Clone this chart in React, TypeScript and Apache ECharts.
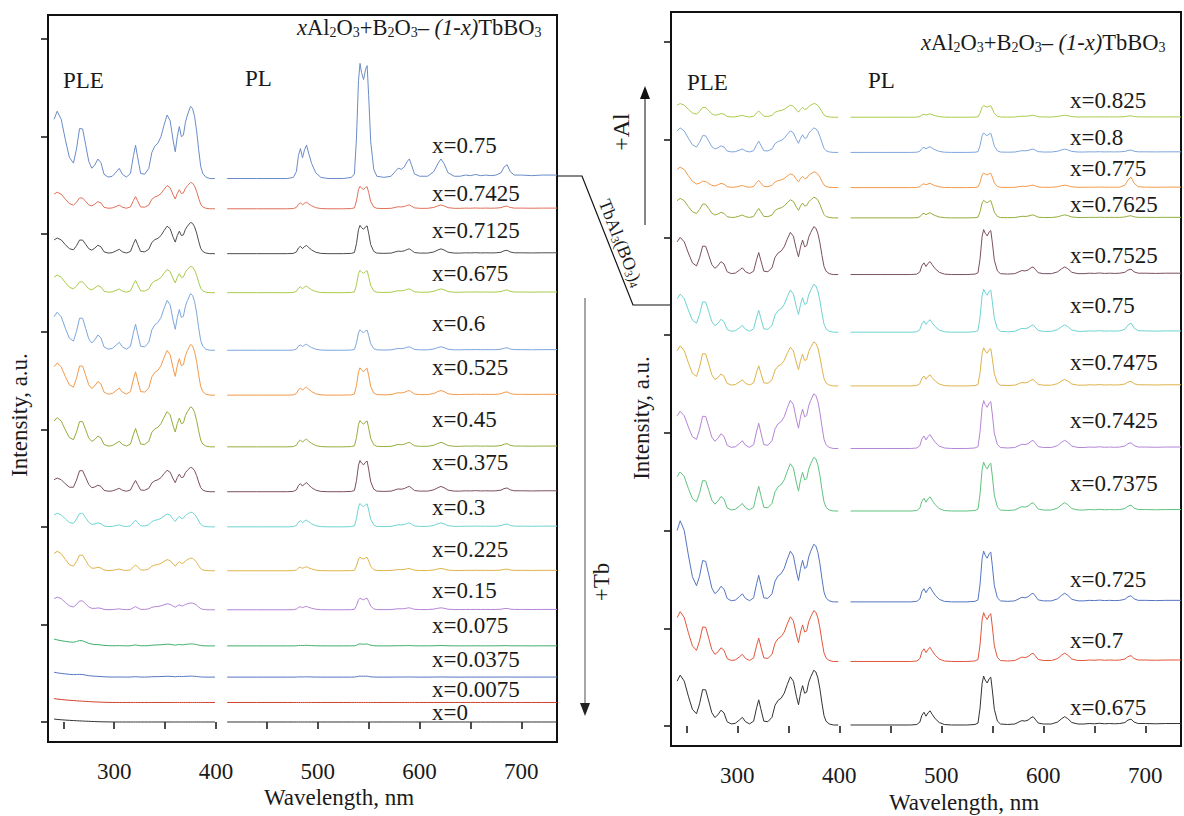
import React, { useEffect, useRef } from 'react';
import * as echarts from 'echarts';

// ---------- base spectral components ----------
const pleNm = [241,244,248,252,256,260,263,266,269,272,275,278,281,284,287,290,294,298,302,305,308,312,316,319,321,323,326,330,334,337,340,343,346,349,352,355,358,360,362,364,366,368,370,372,375,377,379,381,383,385,387,390,394,399];
const pleMain = [0,0,0,0,0,0,0,0,0,0.01, 0.02,0.06,0.16,0.27,0.22,0.06,0.02,0.03,0.09,0.14, 0.06,0.02,0.07,0.32,0.46,0.3,0.07,0.06,0.14,0.36, 0.45,0.49,0.58,0.74,0.88,0.8,0.52,0.37,0.58,0.72, 0.58,0.6,0.78,0.88,1.0,0.97,0.86,0.66,0.4,0.17, 0.07,0.02,0,0];
const pleUV = [0.88,1.0,0.88,0.58,0.3,0.14,0.07,0.04,0.02,0.01, 0,0,0,0,0,0,0,0,0,0, 0,0,0,0,0,0,0,0,0,0, 0,0,0,0,0,0,0,0,0,0, 0,0,0,0,0,0,0,0,0,0, 0,0,0,0];
const ple265 = [0,0,0,0,0.02,0.12,0.5,0.95,0.97,0.65, 0.32,0.12,0.04,0,0,0,0,0,0,0, 0,0,0,0,0,0,0,0,0,0, 0,0,0,0,0,0,0,0,0,0, 0,0,0,0,0,0,0,0,0,0, 0,0,0,0];
const pleSlow = [1.0,0.88,0.76,0.66,0.57,0.49,0.43,0.38,0.33,0.28, 0.23,0.19,0.15,0.11,0.08,0.05,0.03,0.01,0,0, 0,0,0,0,0,0,0,0,0,0, 0,0,0,0,0,0,0,0,0,0, 0,0,0,0,0,0,0,0,0,0, 0,0,0,0];

const plNm = [411,440,470,476,479,481,483,485,487,489,491,494,498,503,510,525,533,536,538,540,541.5,543,545,547,548.5,550,552,555,558,565,572,576,579,582,585,588,590,592,595,600,608,614,618,621,624,628,634,640,645,650,655,660,665,670,675,680,683,686,689,693,700,710,720,735];
const plMain = [0,0,0,0.01,0.06,0.2,0.26,0.18,0.25,0.29, 0.22,0.13,0.05,0.01,0,0,0.01,0.04,0.35,0.85, 1.0,0.92,0.86,0.95,0.98,0.72,0.32,0.08,0.02,0.01, 0.02,0.06,0.09,0.08,0.1,0.15,0.17,0.12,0.04,0.02, 0.02,0.06,0.13,0.17,0.13,0.05,0.02,0.02,0.03,0.025, 0.035,0.025,0.03,0.025,0.03,0.05,0.1,0.12,0.06,0.03, 0.03,0.025,0.03,0.03];
const plRed = [0,0,0,0,0,0,0,0,0,0, 0,0,0,0,0,0,0,0,0,0, 0,0,0,0,0,0,0,0,0,0, 0,0,0,0,0,0,0,0,0,0, 0,0,0,0,0,0,0,0,0,0, 0,0,0,0,0,0.2,0.7,1.0,0.4,0.05, 0,0,0,0];

// ---------- left panel series ----------
const leftLabels = ['x=0.75','x=0.7425','x=0.7125','x=0.675','x=0.6','x=0.525','x=0.45','x=0.375','x=0.3','x=0.225','x=0.15','x=0.075','x=0.0375','x=0.0075','x=0'];
const leftBaseline = [557,526,480,440,381,335,282,236,200,155,115,78,46,20,0];
const leftMain = [74,27,32,27,58,52,41,25,15,13,7,2,1,0,0];
const leftUV = [69,17,16,18,39,33,30,14,14,20,13,0,0,0,0];
const left265 = [51,11,14,11,33,30,26,22,14,16,9,3,1,0,0];
const leftSlow = [0,0,0,0,0,0,0,0,0,0,0,7,5,4,3];
const leftPL = [118,23,29,23,21,28,27,32,24,14,12,2,1,0,0];
const leftRed = [0,0,0,0,0,0,0,0,0,0,0,0,0,0,0];

// ---------- right panel series ----------
const rightLabels = ['x=0.825','x=0.8','x=0.775','x=0.7625','x=0.7525','x=0.75','x=0.7475','x=0.7425','x=0.7375','x=0.725','x=0.7','x=0.675'];
const rightBaseline = [623,587,551,520,462,403,348,284,220,127,66,1];
const rightMain = [14,25,16,21,49,49,45,56,55,59,52,56];
const rightUV = [14,25,21,20,38,39,41,38,40,83,51,51];
const right265 = [10,17,6,14,29,31,33,33,31,41,35,36];
const rightSlow = [0,0,0,0,0,0,0,0,0,0,0,0];
const rightPL = [12,20,15,18,46,44,39,49,50,52,50,50];
const rightRed = [0,0,9,0,0,4,0,0,0,0,0,0];

const xTicks = [250,300,350,400,450,500,550,600,650,700];
const xTickLabels = [300,400,500,600,700];
const yTicks = [0,100,200,300,400,500,600,700];

// ---------- styles ----------
const leftColors = ['#6a8cc7','#e0705a','#4d4d4d','#a9cc4a','#7ea6dc','#f39a4a','#94ae3c','#7b4f63','#6fd3d3','#dfb34a','#b585d6','#3fae6a','#5575c0','#d0402c','#333333'];
const rightColors = ['#a9cc4a','#7ea6dc','#f39a4a','#94ae3c','#7b4f63','#6fd3d3','#dfb34a','#b585d6','#5fc47f','#5575c0','#e0563c','#333333'];
const leftLabelY = [145,193,230,273,323,367,419,462,507,549,590,625,659,689,712];
const rightLabelY = [100,137,168,204,255,305,362,420,483,579,640,707];

const SERIF = '"Liberation Serif", "Times New Roman", serif';
const INK = '#1a1a1a';
const FS = 23;

function buildSeries(i: number, base: number[], main: number[], uv: number[], b265: number[], slow: number[], pl: number[], red: number[], color: string, axis: number) {
  const data: any[] = [];
  pleNm.forEach((nm, j) => {
    data.push([nm, base[i] + main[i] * pleMain[j] + uv[i] * pleUV[j] + b265[i] * ple265[j] + slow[i] * pleSlow[j]]);
  });
  data.push([405, '-']);
  plNm.forEach((nm, j) => {
    data.push([nm, base[i] + pl[i] * plMain[j] + red[i] * plRed[j]]);
  });
  return {
    type: 'line',
    xAxisIndex: axis,
    yAxisIndex: axis,
    data,
    symbol: 'none',
    showSymbol: false,
    connectNulls: false,
    silent: true,
    lineStyle: { width: 1, color },
    z: 3,
  };
}

function txt(text: string, x: number, y: number, opts: any = {}) {
  const align = opts.align || 'left';
  const va = opts.verticalAlign || 'middle';
  return {
    type: 'text',
    x, y,
    rotation: opts.rotation || 0,
    z: 10,
    style: {
      text,
      fontSize: opts.fontSize || FS,
      fontFamily: SERIF,
      fontStyle: opts.fontStyle || 'normal',
      fill: opts.fill || INK,
      align, verticalAlign: va,
      textAlign: align, textVerticalAlign: va,
      rich: opts.rich,
    },
  };
}

const titleRich = {
  n: { fontSize: 22.5, fontFamily: SERIF, fill: INK },
  i: { fontSize: 22.5, fontFamily: SERIF, fontStyle: 'italic', fill: INK },
  s: { fontSize: 14, fontFamily: SERIF, fill: INK, padding: [10, 0, 0, 0] },
};
const titleText = '{i|x}{n|Al}{s|2}{n|O}{s|3}{n|+B}{s|2}{n|O}{s|3}{n|– }{i|(1-x)}{n|TbBO}{s|3}';

const tbRich = {
  n: { fontSize: 18, fontFamily: SERIF, fill: INK },
  s: { fontSize: 11.5, fontFamily: SERIF, fill: INK, padding: [8, 0, 0, 0] },
};
const tbText = '{n|TbAl}{s|3}{n|(BO}{s|3}{n|)}{s|4}';

function xAxis(gridIndex: number) {
  return {
    type: 'value', gridIndex, min: 235, max: 735,
    axisLine: { show: false },
    splitLine: { show: false },
    axisTick: { show: true, inside: false, length: 7, customValues: xTicks, lineStyle: { color: '#111', width: 1.5 } },
    axisLabel: { show: true, customValues: xTickLabels, fontSize: FS, fontFamily: SERIF, color: INK, margin: 18 },
  };
}
function yAxis(gridIndex: number, min: number, max: number) {
  return {
    type: 'value', gridIndex, min, max,
    axisLine: { show: false },
    splitLine: { show: false },
    axisTick: { show: true, inside: false, length: 7, customValues: yTicks, lineStyle: { color: '#111', width: 1.5 } },
    axisLabel: { show: false },
  };
}

export default function App() {
  const ref = useRef<HTMLDivElement>(null);
  useEffect(() => {
    const chart = echarts.init(ref.current!, null, { renderer: 'svg' });
    const series: any[] = [];
    leftLabels.forEach((_, i) => series.push(buildSeries(i, leftBaseline, leftMain, leftUV, left265, leftSlow, leftPL, leftRed, leftColors[i], 0)));
    rightLabels.forEach((_, i) => series.push(buildSeries(i, rightBaseline, rightMain, rightUV, right265, rightSlow, rightPL, rightRed, rightColors[i], 1)));

    const graphics: any[] = [];
    leftLabels.forEach((l, i) => graphics.push(txt(l, 432, leftLabelY[i])));
    rightLabels.forEach((l, i) => graphics.push(txt(l, 1070, rightLabelY[i])));
    graphics.push(txt(titleText, 297, 27, { rich: titleRich }));
    graphics.push(txt(titleText, 921, 42, { rich: titleRich }));
    graphics.push(txt('PLE', 63, 80));
    graphics.push(txt('PL', 245, 78));
    graphics.push(txt('PLE', 687, 82));
    graphics.push(txt('PL', 868, 80));
    graphics.push(txt('Wavelength, nm', 339, 797, { align: 'center' }));
    graphics.push(txt('Wavelength, nm', 964, 802, { align: 'center' }));
    graphics.push(txt('Intensity, a.u.', 19, 415, { align: 'center', rotation: Math.PI / 2 }));
    graphics.push(txt('Intensity, a.u.', 641, 418, { align: 'center', rotation: Math.PI / 2 }));
    // connector to TbAl3(BO3)4
    graphics.push({ type: 'polyline', z: 9, shape: { points: [[557, 176], [582, 176], [633, 305], [671, 305]] }, style: { stroke: '#111', lineWidth: 1.2, fill: 'none' } });
    graphics.push(txt(tbText, 621, 243, { align: 'center', rotation: -1.194, rich: tbRich }));
    // +Tb arrow
    graphics.push({ type: 'line', z: 9, shape: { x1: 585, y1: 298, x2: 585, y2: 706 }, style: { stroke: '#888', lineWidth: 1.5 } });
    graphics.push({ type: 'polygon', z: 9, shape: { points: [[585, 716], [580, 703], [590, 703]] }, style: { fill: '#222' } });
    graphics.push(txt('+Tb', 601, 582, { align: 'center', rotation: Math.PI / 2 }));
    // +Al arrow
    graphics.push({ type: 'line', z: 9, shape: { x1: 645, y1: 225, x2: 645, y2: 96 }, style: { stroke: '#444', lineWidth: 1.3 } });
    graphics.push({ type: 'polygon', z: 9, shape: { points: [[645, 86], [640, 99], [650, 99]] }, style: { fill: '#111' } });
    graphics.push(txt('+Al', 621, 132, { align: 'center', rotation: Math.PI / 2, fontSize: 24 }));

    chart.setOption({
      animation: false,
      backgroundColor: '#ffffff',
      grid: [
        { left: 48, top: 15, width: 509, height: 727, show: true, borderColor: '#111', borderWidth: 2, backgroundColor: 'transparent' },
        { left: 671, top: 12, width: 510, height: 734, show: true, borderColor: '#111', borderWidth: 2, backgroundColor: 'transparent' },
      ],
      xAxis: [xAxis(0), xAxis(1)],
      yAxis: [yAxis(0, -20.5, 724.6), yAxis(1, -20.5, 730.7)],
      series,
      graphic: graphics,
    });
    return () => chart.dispose();
  }, []);
  return <div ref={ref} style={{ position: 'fixed', left: 0, top: 0, width: 1184, height: 816, background: '#fff' }} />;
}
